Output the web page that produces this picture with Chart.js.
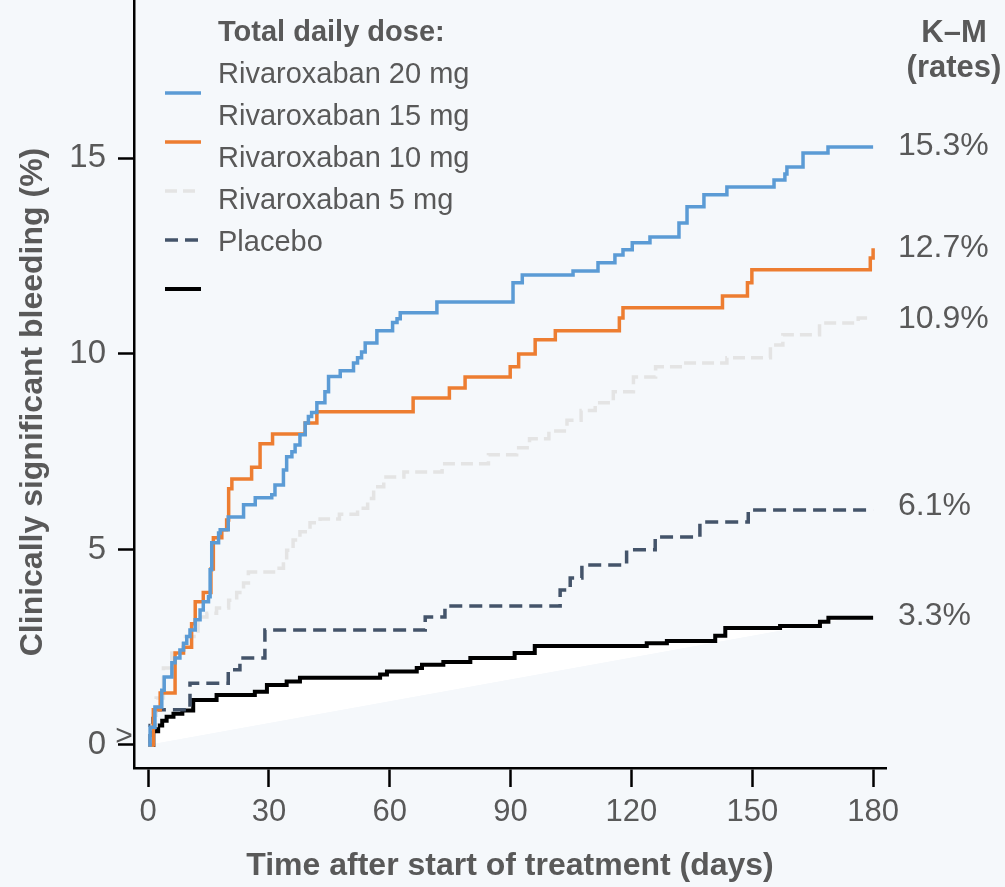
<!DOCTYPE html>
<html>
<head>
<meta charset="utf-8">
<script src="https://cdn.jsdelivr.net/npm/chart.js@4.4.1/dist/chart.umd.min.js"></script>
<style>
  html, body { margin: 0; padding: 0; background: #f5f8fb; }
  #contenedor { width: 1005px; height: 887px; position: relative; }
</style>
</head>
<body>
<div id="contenedor"><canvas id="graficoKM"></canvas></div>
<script>
// valores (dias, % acumulado)
const dias20 = [0, 0.5, 1.7, 3.4, 4, 5.9, 6.7, 7.9, 8.8, 9.6, 10.4, 11.7, 12.9, 13.7, 15, 15.4, 15.8, 17.5, 17.9, 19.9, 23.7, 26.6, 30.7, 31.5, 33.6, 34.4, 35.7, 36.5, 37.7, 39, 39.8, 40.6, 41.9, 43.9, 44.8, 47.7, 51, 52, 53, 53.9, 56.8, 60.7, 61.8, 62.6, 71.7, 90.6, 92.9, 105.5, 111.7, 115.9, 117.9, 120.2, 124.6, 131.8, 133.8, 138, 143.7, 155.4, 158.1, 158.6, 162.6, 168.8, 180];
const tasa20 = [0, 0.45, 0.97, 1.4, 1.74, 2.1, 2.22, 2.43, 2.6, 2.77, 2.94, 3.2, 3.45, 3.66, 3.79, 4.48, 5.17, 5.42, 5.5, 5.83, 6.14, 6.32, 6.4, 6.65, 7.03, 7.37, 7.5, 7.67, 7.93, 8.23, 8.4, 8.5, 8.75, 9.03, 9.42, 9.57, 9.77, 9.9, 10.05, 10.28, 10.59, 10.8, 10.9, 11.05, 11.33, 11.82, 12.02, 12.12, 12.33, 12.53, 12.66, 12.84, 12.99, 13.35, 13.76, 14.07, 14.27, 14.45, 14.6, 14.78, 15.14, 15.29, 15.29];

const diasNaranja = [0, 1.3, 3, 6.7, 8.8, 10.8, 11.7, 13.7, 15.6, 16.2, 18.3, 19.5, 20, 20.8, 25.7, 27.8, 30.9, 39, 41.9, 65.8, 74.8, 78.7, 89.9, 92, 96.1, 101.1, 117, 117.9, 142.6, 148.8, 149.9, 179.3, 180];
const tasaNaranja = [0, 0.9, 1.33, 2.35, 2.5, 3.1, 3.66, 3.9, 4.5, 5.3, 5.5, 5.75, 6.55, 6.8, 7.1, 7.7, 7.95, 8.23, 8.52, 8.87, 9.13, 9.41, 9.67, 10.0, 10.36, 10.59, 10.92, 11.18, 11.48, 11.82, 12.15, 12.45, 12.7];

const diasGris = [0, 1, 2, 3.8, 5.9, 8.7, 12.4, 14.6, 17, 20, 22, 23.7, 24.9, 32, 33.6, 34.4, 36, 37.7, 40.2, 42.7, 47.5, 52, 54.5, 56, 58.5, 63.5, 73, 84.5, 91.5, 94.7, 99.5, 104, 107.5, 111, 115.5, 120.5, 126, 133, 143.7, 154.5, 157.6, 166.7, 176.3, 180];
const tasaGris = [0, 0.5, 1.2, 1.97, 2.35, 2.77, 3.27, 3.37, 3.5, 3.7, 3.9, 4.14, 4.42, 4.52, 4.73, 4.98, 5.24, 5.45, 5.68, 5.78, 5.9, 6.05, 6.3, 6.6, 6.85, 6.98, 7.19, 7.42, 7.6, 7.83, 8.03, 8.3, 8.55, 8.75, 9.03, 9.41, 9.67, 9.77, 9.9, 10.23, 10.49, 10.79, 10.92, 10.92];

const diasPlacebo = [0, 0.5, 1.2, 2, 10.4, 19.9, 22.8, 29, 68.8, 73.7, 102.3, 104.8, 107.7, 118.8, 125.9, 137, 149, 180];
const tasaPlacebo = [0, 0.5, 0.75, 0.9, 1.58, 1.92, 2.22, 2.94, 3.27, 3.55, 3.96, 4.27, 4.6, 4.99, 5.32, 5.7, 6.01, 6.01];

const diasNegro = [0, 1.3, 2.5, 3.5, 4.6, 6.3, 8.5, 11.2, 17, 26.5, 29.5, 34.4, 37.7, 57.6, 59.3, 66.7, 68, 73.3, 80, 91, 96, 123.8, 128.8, 140.8, 143.3, 156.9, 166.8, 168.9, 180];
const tasaNegro = [0, 0.35, 0.5, 0.62, 0.72, 0.8, 0.88, 1.15, 1.28, 1.36, 1.53, 1.62, 1.72, 1.8, 1.88, 1.97, 2.05, 2.12, 2.22, 2.35, 2.53, 2.6, 2.66, 2.79, 2.99, 3.04, 3.15, 3.25, 3.25];

// cuna blanca bajo la curva negra
const diasCuna = [0, 180];
const tasaCuna = [0, 3.35];

const ticksX = [0, 30, 60, 90, 120, 150, 180];
const ticksY = [0, 5, 10, 15];

const tituloEjeY = 'Clinically significant bleeding (%)';
const tituloLeyenda = 'Total daily dose:';
const etiquetasLeyenda = ['Rivaroxaban 20 mg', 'Rivaroxaban 15 mg', 'Rivaroxaban 10 mg', 'Rivaroxaban 5 mg', 'Placebo'];
const tituloTasas = ['K\u2013M', '(rates)'];
const tasasFinales = ['15.3%', '12.7%', '10.9%', '6.1%', '3.3%'];
const valoresTasas = [15.3, 12.7, 10.9, 6.1, 3.3];

const colores = ['#5b9bd5', '#ed7d31', '#e4e4e4', '#44546a', '#000000'];
const guiones = [[], [], [12, 6], [13, 7], []];
const grosores = [3.5, 3.5, 3.5, 3.5, 4];

const FUENTE = '"Liberation Sans", Arial, sans-serif';
const GRIS_TEXTO = '#595959';

const puntos = (xs, ys) => xs.map((x, i) => ({ x: x, y: ys[i] }));

const series = [
    puntos(dias20, tasa20),
    puntos(diasNaranja, tasaNaranja),
    puntos(diasGris, tasaGris),
    puntos(diasPlacebo, tasaPlacebo),
    puntos(diasNegro, tasaNegro)
];

const datasets = series.map((data, i) => ({
    data: data,
    stepped: true,
    borderColor: colores[i],
    borderWidth: grosores[i],
    borderDash: guiones[i],
    pointRadius: 0,
    fill: false
}));
// relleno blanco entre la curva negra y la diagonal
datasets[4].fill = { target: 5, above: '#ffffff', below: 'rgba(0,0,0,0)' };
datasets.push({
    data: puntos(diasCuna, tasaCuna),
    borderWidth: 0,
    borderColor: 'rgba(0,0,0,0)',
    pointRadius: 0,
    fill: false
});

const textosExtra = {
    id: 'textosExtra',
    beforeDraw(chart) {
        const ctx = chart.ctx;
        ctx.save();
        ctx.fillStyle = '#f5f8fb';
        ctx.fillRect(0, 0, chart.width, chart.height);
        ctx.restore();
    },
    afterDraw(chart) {
        const ctx = chart.ctx;
        const escalaY = chart.scales.y;
        ctx.save();
        ctx.fillStyle = GRIS_TEXTO;
        ctx.textBaseline = 'middle';

        // titulo del eje Y
        ctx.save();
        ctx.translate(33, 402);
        ctx.rotate(-Math.PI / 2);
        ctx.textAlign = 'center';
        ctx.font = 'bold 32px ' + FUENTE;
        ctx.fillText(tituloEjeY, 0, 0);
        ctx.restore();

        // leyenda
        ctx.textAlign = 'left';
        ctx.font = 'bold 29px ' + FUENTE;
        ctx.fillText(tituloLeyenda, 218, 33);
        ctx.font = '29px ' + FUENTE;
        etiquetasLeyenda.forEach((t, i) => ctx.fillText(t, 218, 75 + i * 42));

        colores.forEach((c, i) => {
            const yy = 93 + i * 49;
            ctx.beginPath();
            ctx.setLineDash(guiones[i]);
            ctx.strokeStyle = c;
            ctx.lineWidth = grosores[i];
            ctx.moveTo(165, yy);
            ctx.lineTo(201, yy);
            ctx.stroke();
        });
        ctx.setLineDash([]);

        // tasas K-M a la derecha
        ctx.textAlign = 'center';
        ctx.font = 'bold 31px ' + FUENTE;
        ctx.fillText(tituloTasas[0], 954, 33);
        ctx.fillText(tituloTasas[1], 954, 68);

        ctx.textAlign = 'left';
        ctx.font = '32px ' + FUENTE;
        tasasFinales.forEach((t, i) => {
            ctx.fillText(t, 898, escalaY.getPixelForValue(valoresTasas[i]));
        });

        // simbolo junto al cero
        ctx.font = '30px ' + FUENTE;
        ctx.textAlign = 'center';
        ctx.fillText('>', 124, escalaY.getPixelForValue(0) - 8);
        ctx.restore();
    }
};

const ctx = document.getElementById('graficoKM').getContext('2d');

new Chart(ctx, {
    type: 'line',
    data: { datasets: datasets },
    options: {
        responsive: true,
        maintainAspectRatio: false,
        animation: false,
        events: [],
        layout: { padding: { left: 0, top: 0, right: 119, bottom: 0 } },
        plugins: {
            legend: { display: false },
            tooltip: { enabled: false },
            filler: { drawTime: 'beforeDatasetsDraw' }
        },
        scales: {
            x: {
                type: 'linear',
                min: -3.5,
                max: 183.2,
                afterBuildTicks: (scale) => { scale.ticks = ticksX.map(v => ({ value: v })); },
                afterFit: (scale) => {
                    scale.height = 119;
                    scale.paddingLeft = 0;
                    scale.paddingRight = 0;
                },
                grid: {
                    drawOnChartArea: false,
                    drawTicks: true,
                    tickLength: 19,
                    tickColor: '#000',
                    tickWidth: 2.5
                },
                border: { display: true, color: '#000', width: 2.5 },
                ticks: {
                    color: GRIS_TEXTO,
                    padding: 7,
                    maxRotation: 0,
                    autoSkip: false,
                    font: { family: FUENTE, size: 31 }
                },
                title: {
                    display: true,
                    text: 'Time after start of treatment (days)',
                    color: GRIS_TEXTO,
                    font: { family: FUENTE, size: 32, weight: 'bold' },
                    padding: { top: 0, bottom: 2 }
                }
            },
            y: {
                min: -0.59,
                max: 19.05,
                afterBuildTicks: (scale) => { scale.ticks = ticksY.map(v => ({ value: v })); },
                afterFit: (scale) => {
                    scale.width = 134;
                    scale.paddingTop = 0;
                    scale.paddingBottom = 0;
                },
                grid: {
                    drawOnChartArea: false,
                    drawTicks: true,
                    tickLength: 16,
                    tickColor: '#000',
                    tickWidth: 2.5
                },
                border: { display: true, color: '#000', width: 2.5 },
                ticks: {
                    color: GRIS_TEXTO,
                    padding: 12,
                    autoSkip: false,
                    font: { family: FUENTE, size: 33 }
                }
            }
        }
    },
    plugins: [textosExtra]
});
</script>
</body>
</html>
